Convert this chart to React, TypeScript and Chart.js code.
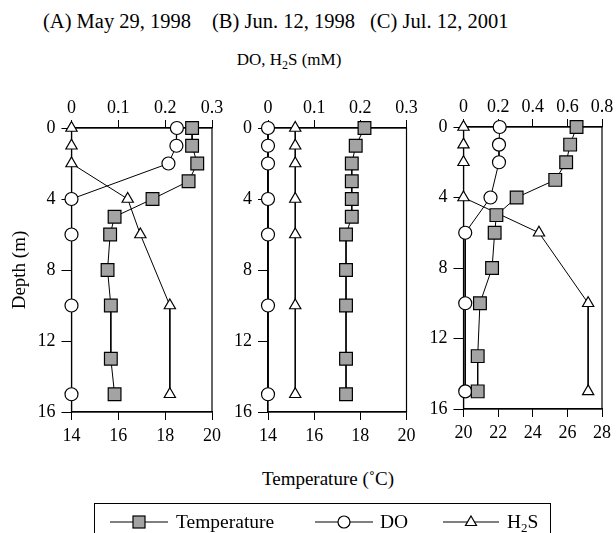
import React, { useEffect, useRef } from 'react';
import { Chart, registerables } from 'chart.js';
Chart.register(...registerables);

// ---- data ----
const depthsTemp = [0, 1, 2, 3, 4, 5, 6, 8, 10, 13, 15];
const depthsGas = [0, 1, 2, 4, 6, 10, 15];

const tempA = [19.15, 19.15, 19.37, 19.0, 17.46, 15.84, 15.65, 15.54, 15.68, 15.68, 15.84];
const doA = [0.225, 0.224, 0.207, 0, 0, 0, 0];
const h2sA = [0, 0, 0, 0.12, 0.147, 0.21, 0.21];

const tempB = [18.18, 17.8, 17.63, 17.63, 17.63, 17.63, 17.38, 17.38, 17.38, 17.38, 17.38];
const doB = [0, 0, 0, 0, 0, 0, 0];
const h2sB = [0.059, 0.059, 0.059, 0.059, 0.059, 0.059, 0.059];

const tempC = [26.53, 26.16, 25.93, 25.3, 23.07, 21.9, 21.8, 21.65, 20.95, 20.82, 20.82];
const doC = [0.209, 0.205, 0.205, 0.156, 0.01, 0.01, 0.01];
const h2sC = [0, 0, 0, 0, 0.436, 0.72, 0.72];

const panelTitles = ['(A) May 29, 1998', '(B) Jun. 12, 1998', '(C) Jul. 12, 2001'];
const tempRanges = [[14, 20], [14, 20], [20, 28]];
const tempSteps = [2, 2, 2];
const concRanges = [[0, 0.3], [0, 0.3], [0, 0.8]];
const concSteps = [0.1, 0.1, 0.2];
const depthRange = [0, 16];
const depthStep = 4;
const depthTitle = 'Depth (m)';

const panelData = [
  { temp: tempA, dO: doA, h2s: h2sA },
  { temp: tempB, dO: doB, h2s: h2sB },
  { temp: tempC, dO: doC, h2s: h2sC },
];

// ---- layout (plot area boxes in page px) ----
const W = 616;
const H = 533;
const boxes = [
  { left: 71.5, right: 212, top: 128, bottom: 412 },
  { left: 268, right: 406.5, top: 128, bottom: 412 },
  { left: 463.5, right: 603.5, top: 127, bottom: 409 },
];
const AXW = 40;
const AXH = 45;
const FONT = "'Liberation Serif', 'Times New Roman', serif";
const TEMP_FILL = '#a3a3a3';

Chart.defaults.font.family = FONT;
Chart.defaults.color = '#000';

const boxPlugin = {
  id: 'plotBox',
  beforeDatasetsDraw(chart: any) {
    const { ctx, chartArea } = chart;
    const { left, top, right, bottom } = chartArea;
    ctx.save();
    ctx.strokeStyle = '#000';
    ctx.lineWidth = 1.2;
    ctx.strokeRect(left, top, right - left, bottom - top);
    ctx.restore();
  },
};

function makeConfig(i: number): any {
  const d = panelData[i];
  const b = boxes[i];
  const yW = i === 0 ? b.left : AXW;
  const tickFont = { family: FONT, size: 18 };
  const gridCommon = {
    display: true,
    drawOnChartArea: false,
    drawTicks: true,
    tickLength: 8,
    color: '#000',
    lineWidth: 1,
  };
  const border = { display: true, color: '#000', width: 1.2 };
  const common = {
    showLine: true,
    borderColor: '#000',
    borderWidth: 1,
    tension: 0,
    pointBorderColor: '#000',
    pointBorderWidth: 1.2,
    clip: false,
    yAxisID: 'y',
  };
  return {
    type: 'scatter',
    data: {
      datasets: [
        {
          ...common,
          label: 'Temperature',
          data: depthsTemp.map((dep, k) => ({ x: d.temp[k], y: dep })),
          xAxisID: 'xT',
          pointStyle: 'rect',
          pointRadius: 9,
          pointBackgroundColor: TEMP_FILL,
        },
        {
          ...common,
          label: 'DO',
          data: depthsGas.map((dep, k) => ({ x: d.dO[k], y: dep })),
          xAxisID: 'xC',
          pointStyle: 'circle',
          pointRadius: 6.5,
          pointBackgroundColor: '#fff',
        },
        {
          ...common,
          label: 'H2S',
          data: depthsGas.map((dep, k) => ({ x: d.h2s[k], y: dep })),
          xAxisID: 'xC',
          pointStyle: 'triangle',
          pointRadius: 6.5,
          pointBackgroundColor: '#fff',
        },
      ],
    },
    options: {
      responsive: false,
      animation: false,
      devicePixelRatio: 1,
      layout: {
        padding: {
          left: b.left - yW,
          right: W - b.right,
          top: b.top - AXH,
          bottom: H - b.bottom - AXH,
        },
      },
      plugins: { legend: { display: false }, tooltip: { enabled: false }, title: { display: false } },
      scales: {
        y: {
          type: 'linear',
          position: 'left',
          reverse: true,
          min: depthRange[0],
          max: depthRange[1],
          ticks: { stepSize: depthStep, font: tickFont, color: '#000', padding: 6 },
          grid: { ...gridCommon, tickLength: 10 },
          border,
          title: {
            display: i === 0,
            text: depthTitle,
            font: { family: FONT, size: 19 },
            color: '#000',
            padding: { top: 9, bottom: 0 },
          },
          afterFit: (s: any) => { s.width = yW; },
        },
        xT: {
          type: 'linear',
          position: 'bottom',
          min: tempRanges[i][0],
          max: tempRanges[i][1],
          ticks: { stepSize: tempSteps[i], font: tickFont, color: '#000', padding: 5, maxRotation: 0 },
          grid: gridCommon,
          border,
          afterFit: (s: any) => { s.height = AXH; },
        },
        xC: {
          type: 'linear',
          position: 'top',
          min: concRanges[i][0],
          max: concRanges[i][1],
          ticks: {
            stepSize: concSteps[i],
            font: tickFont,
            color: '#000',
            padding: 1,
            maxRotation: 0,
            callback: (v: any) => String(Number(Number(v).toFixed(2))),
          },
          grid: gridCommon,
          border,
          afterFit: (s: any) => { s.height = AXH; },
        },
      },
    },
    plugins: [boxPlugin],
  };
}

function Panel({ index }: { index: number }) {
  const ref = useRef<HTMLCanvasElement>(null);
  useEffect(() => {
    if (!ref.current) return;
    const chart = new Chart(ref.current, makeConfig(index));
    return () => chart.destroy();
  }, [index]);
  return (
    <canvas
      ref={ref}
      width={W}
      height={H}
      style={{ position: 'absolute', left: 0, top: 0, width: W, height: H }}
    />
  );
}

const txt: React.CSSProperties = {
  position: 'absolute',
  fontFamily: FONT,
  color: '#000',
  whiteSpace: 'nowrap',
  lineHeight: 1,
};

export default function App() {
  const titleLefts = [43, 212, 370];
  return (
    <div style={{ position: 'absolute', left: 0, top: 0, width: W, height: H, background: '#fff', overflow: 'hidden' }}>
      {panelTitles.map((t, i) => (
        <div key={t} style={{ ...txt, left: titleLefts[i], top: 11, fontSize: 20.5 }}>{t}</div>
      ))}
      <div style={{ ...txt, left: 289, top: 51, fontSize: 17, transform: 'translateX(-50%)' }}>
        DO, H<sub style={{ fontSize: 12, verticalAlign: '-4px', lineHeight: 0 }}>2</sub>S (mM)
      </div>
      <div style={{ ...txt, left: 328, top: 469, fontSize: 19, transform: 'translateX(-50%)' }}>
        Temperature (˚C)
      </div>

      {[0, 1, 2].map((i) => (
        <Panel key={i} index={i} />
      ))}

      <div
        style={{
          position: 'absolute',
          left: 94,
          top: 503,
          width: 457,
          height: 45,
          border: '1px solid #000',
          boxSizing: 'border-box',
        }}
      />
      <svg style={{ position: 'absolute', left: 110, top: 514 }} width={58} height={16}>
        <line x1={0} y1={8} x2={58} y2={8} stroke="#000" strokeWidth={1} />
        <rect x={23} y={2} width={12} height={12} fill={TEMP_FILL} stroke="#000" strokeWidth={1.2} />
      </svg>
      <div style={{ ...txt, left: 176, top: 512, fontSize: 19.5 }}>Temperature</div>
      <svg style={{ position: 'absolute', left: 315, top: 514 }} width={58} height={16}>
        <line x1={0} y1={8} x2={58} y2={8} stroke="#000" strokeWidth={1} />
        <circle cx={29} cy={8} r={6} fill="#fff" stroke="#000" strokeWidth={1.2} />
      </svg>
      <div style={{ ...txt, left: 380, top: 512, fontSize: 19.5 }}>DO</div>
      <svg style={{ position: 'absolute', left: 443, top: 514 }} width={56} height={16}>
        <line x1={0} y1={8} x2={56} y2={8} stroke="#000" strokeWidth={1} />
        <polygon points="28,2 33.5,11.5 22.5,11.5" fill="#fff" stroke="#000" strokeWidth={1.2} />
      </svg>
      <div style={{ ...txt, left: 507, top: 512, fontSize: 19.5 }}>
        H<sub style={{ fontSize: 13, verticalAlign: '-4px', lineHeight: 0 }}>2</sub>S
      </div>
    </div>
  );
}
